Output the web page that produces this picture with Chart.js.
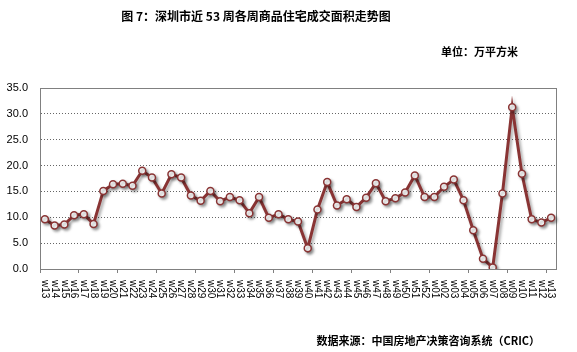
<!DOCTYPE html>
<html>
<head>
<meta charset="utf-8">
<script src="https://cdn.jsdelivr.net/npm/chart.js@4/dist/chart.umd.min.js"></script>
<style>
    body { margin: 0; background: #fff; }
</style>
</head>
<body>
<canvas id="areaChart" width="577" height="352"></canvas>
<script>
// 周次标签：w13 ... w52, w01 ... w13
var weekLabels = ['w13', 'w14', 'w15', 'w16', 'w17', 'w18', 'w19', 'w20', 'w21', 'w22',
    'w23', 'w24', 'w25', 'w26', 'w27', 'w28', 'w29', 'w30', 'w31', 'w32',
    'w33', 'w34', 'w35', 'w36', 'w37', 'w38', 'w39', 'w40', 'w41', 'w42',
    'w43', 'w44', 'w45', 'w46', 'w47', 'w48', 'w49', 'w50', 'w51', 'w52',
    'w01', 'w02', 'w03', 'w04', 'w05', 'w06', 'w07', 'w08', 'w09', 'w10',
    'w11', 'w12', 'w13'];

// 商品住宅成交面积（万平方米）
var areaValues = [9.6, 8.4, 8.6, 10.4, 10.6, 8.7, 15.1, 16.4, 16.5, 16.1,
    19.0, 17.7, 14.6, 18.3, 17.7, 14.2, 13.2, 15.1, 13.1, 13.9,
    13.3, 10.8, 13.9, 9.9, 10.6, 9.6, 9.2, 4.0, 11.5, 16.8,
    12.3, 13.5, 12.0, 13.8, 16.6, 13.1, 13.7, 14.8, 18.1, 13.9,
    13.9, 15.9, 17.3, 13.3, 7.5, 2.0, 0.3, 14.6, 31.3, 18.4,
    9.6, 9.0, 9.9];

var titleText = '图 7：深圳市近 53 周各周商品住宅成交面积走势图';
var unitText = '单位：万平方米';
var sourceText = '数据来源：中国房地产决策咨询系统（CRIC）';

var cjkFont = '"Noto Sans CJK SC", "Noto Sans", sans-serif';
var lineColor = 'rgb(137, 52, 52)';
var axisColor = '#808080';

// 标题、单位、来源 + 图框 + 竖排周次标签
var decorPlugin = {
    id: 'decor',
    beforeDatasetsDraw: function (chart) {
        var ctx = chart.ctx;
        var a = chart.chartArea;
        ctx.save();
        ctx.strokeStyle = axisColor;
        ctx.lineWidth = 1;
        ctx.strokeRect(a.left + 0.5, a.top + 0.5, a.right - a.left, a.bottom - a.top);
        ctx.restore();

        // 阴影
        ctx.save();
        ctx.shadowColor = 'rgba(0, 0, 0, 0.35)';
        ctx.shadowBlur = 3;
        ctx.shadowOffsetX = 2;
        ctx.shadowOffsetY = 2;
    },
    afterDatasetsDraw: function (chart) {
        chart.ctx.restore();
    },
    afterDraw: function (chart) {
        var ctx = chart.ctx;
        var xScale = chart.scales.x;
        ctx.save();
        ctx.fillStyle = '#000';

        ctx.font = 'bold 12px ' + cjkFont;
        ctx.textAlign = 'center';
        ctx.textBaseline = 'middle';
        ctx.fillText(titleText, 256, 16);

        ctx.font = 'bold 11px ' + cjkFont;
        ctx.textAlign = 'right';
        ctx.fillText(unitText, 518, 52);
        ctx.fillText(sourceText, 540, 341);

        ctx.font = '10px "Liberation Sans", Arial, sans-serif';
        ctx.textAlign = 'left';
        for (var i = 0; i < weekLabels.length; i++) {
            var x = xScale.getPixelForValue(i);
            ctx.save();
            ctx.translate(x, 280);
            ctx.rotate(Math.PI / 2);
            ctx.fillText(weekLabels[i], 0, 0);
            ctx.restore();
        }
        ctx.restore();
    }
};

new Chart(document.getElementById('areaChart'), {
    type: 'line',
    data: {
        labels: weekLabels,
        datasets: [{
            data: areaValues,
            borderColor: lineColor,
            borderWidth: 3,
            pointRadius: 3.5,
            pointBorderWidth: 1.5,
            pointBackgroundColor: '#fff',
            pointBorderColor: lineColor,
            tension: 0,
            fill: false
        }]
    },
    options: {
        responsive: false,
        animation: false,
        layout: {
            padding: { left: 0, right: 21, top: 88, bottom: 0 }
        },
        plugins: {
            legend: { display: false },
            tooltip: { enabled: false }
        },
        scales: {
            x: {
                offset: true,
                afterFit: function (scale) { scale.height = 83; },
                ticks: { display: false },
                grid: {
                    offset: true,
                    drawOnChartArea: false,
                    tickLength: 4,
                    color: function (c) {
                        return c.index % 4 === 0 ? axisColor : 'transparent';
                    }
                },
                border: { color: axisColor }
            },
            y: {
                min: 0,
                max: 35,
                afterFit: function (scale) { scale.width = 40; },
                ticks: {
                    stepSize: 5,
                    padding: 12,
                    color: '#000',
                    font: { family: '"Liberation Sans", Arial, sans-serif', size: 11 },
                    callback: function (v) { return v.toFixed(1); }
                },
                grid: {
                    drawTicks: false,
                    color: '#666',
                    lineWidth: 1
                },
                border: { color: axisColor, dash: [1, 2] }
            }
        }
    },
    plugins: [decorPlugin]
});
</script>
</body>
</html>
